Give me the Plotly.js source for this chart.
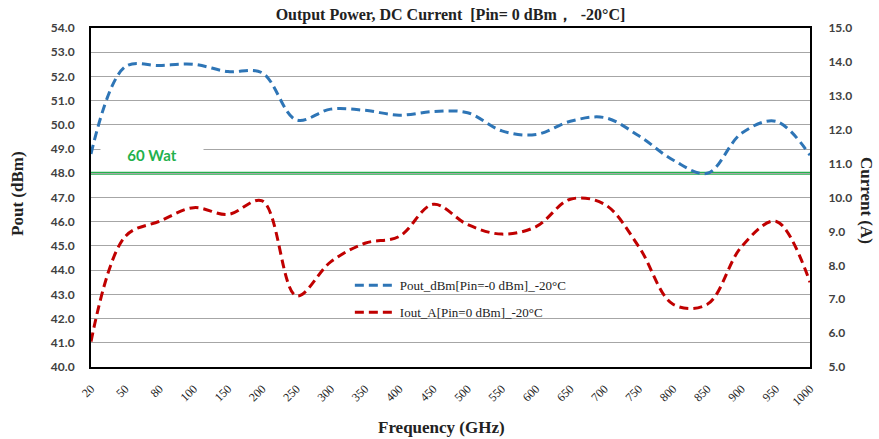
<!DOCTYPE html>
<html>
<head>
<meta charset="utf-8">
<script src="https://cdn.plot.ly/plotly-3.0.1.min.js"></script>
<style>html,body{margin:0;padding:0;background:#fff;}#chart{width:879px;height:439px;}</style>
</head>
<body>
<div id="chart"></div>
<script>
const freq = ['20','50','80','100','150','200','250','300','350','400','450','500','550','600','650','700','750','800','850','900','950','1000'];
const poutDbm = [48.8,52.4,52.45,52.5,52.2,52.15,50.2,50.65,50.6,50.4,50.55,50.5,49.75,49.6,50.15,50.3,49.55,48.55,48.0,49.65,50.15,48.75];
const ioutA = [5.75,8.85,9.3,9.7,9.5,9.9,7.1,8.1,8.65,8.85,9.8,9.2,8.92,9.14,9.95,9.8,8.55,6.85,6.85,8.55,9.3,7.5];
const level60W = 48;
const leftTicks = [40,41,42,43,44,45,46,47,48,49,50,51,52,53,54];
const rightTicks = [5,6,7,8,9,10,11,12,13,14,15];

const serif = 'Liberation Serif, Times New Roman, serif';
const sans = 'Lato, Open Sans, sans-serif';

const traces = [
  {x: freq, y: poutDbm, type: 'scatter', mode: 'lines', name: 'Pout_dBm[Pin=-0 dBm]_-20°C',
   line: {color: '#2e75b6', width: 3, dash: '9px,5px', shape: 'spline', smoothing: 1},
   legendgroup: 'a', yaxis: 'y'},
  {x: freq, y: ioutA, type: 'scatter', mode: 'lines', name: 'Iout_A[Pin=0 dBm]_-20°C',
   line: {color: '#c00000', width: 3, dash: '9px,5px', shape: 'spline', smoothing: 1},
   legendgroup: 'b', yaxis: 'y2'}
];

const layout = {
  width: 879, height: 439,
  margin: {l: 91, r: 69, t: 28, b: 72, pad: 0},
  paper_bgcolor: '#fff', plot_bgcolor: '#fff',
  showlegend: true,
  title: {text: '<b>Output Power, DC Current  [Pin= 0 dBm，  -20°C]</b>', font: {family: serif, size: 16, color: '#222'},
          x: 0.5, xref: 'paper', y: 0.968, yref: 'container', yanchor: 'middle'},
  xaxis: {type: 'category', range: [0, freq.length - 1], showgrid: false, zeroline: false,
          showline: true, linecolor: '#000', linewidth: 2, mirror: true,
          tickangle: -45, tickfont: {family: serif, size: 12, color: '#222'},
          ticks: '', ticklabelstandoff: 8, fixedrange: true},
  yaxis: {range: [40, 54], tickvals: leftTicks, tickformat: '.1f', showgrid: true, gridcolor: '#a6a6a6', gridwidth: 1,
          zeroline: false, showline: true, linecolor: '#000', linewidth: 2, mirror: true,
          tickfont: {family: sans, size: 12, color: '#404040', weight: 'bold'}, ticks: '', ticklabelstandoff: 12},
  yaxis2: {range: [5, 15], tickvals: rightTicks, tickformat: '.1f', overlaying: 'y', side: 'right', showgrid: false,
           zeroline: false, showline: true, linecolor: '#000', linewidth: 2,
           tickfont: {family: sans, size: 12, color: '#404040', weight: 'bold'}, ticks: '', ticklabelstandoff: 14},
  legend: {x: 0.36, xanchor: 'left', y: 0.285, yanchor: 'top', bgcolor: 'rgba(255,255,255,0)', itemwidth: 40,
           font: {family: serif, size: 13, color: '#222'}, traceorder: 'grouped', tracegroupgap: 7},
  shapes: [
    {type: 'rect', xref: 'paper', yref: 'paper', x0: (332-91)/719, x1: (600-91)/719, y0: (366.7-330)/338.2, y1: (366.7-276)/338.2,
     fillcolor: '#fff', line: {width: 0}, layer: 'between'},
    {type: 'line', xref: 'paper', yref: 'y', x0: 0, x1: 1, y0: level60W, y1: level60W,
     line: {color: '#22b14c', width: 3}, layer: 'between'}
  ],
  annotations: [
    {text: '<b>60 Wat</b>', xref: 'paper', yref: 'paper', x: (152-91)/719, y: (366.7-155.5)/338.2,
     xanchor: 'center', yanchor: 'middle', showarrow: false, bgcolor: '#fff', width: 100, height: 22,
     font: {family: sans, size: 15, color: '#22b14c'}},
    {text: '<b>Pout (dBm)</b>', xref: 'paper', yref: 'paper', x: (18-91)/719, y: (366.7-194)/338.2,
     xanchor: 'center', yanchor: 'middle', textangle: -90, showarrow: false,
     font: {family: serif, size: 17, color: '#222'}},
    {text: '<b>Current (A)</b>', xref: 'paper', yref: 'paper', x: (866-91)/719, y: (366.7-200)/338.2,
     xanchor: 'center', yanchor: 'middle', textangle: 90, showarrow: false,
     font: {family: serif, size: 17, color: '#222'}},
    {text: '<b>Frequency (GHz)</b>', xref: 'paper', yref: 'paper', x: (441-91)/719, y: (366.7-427)/338.2,
     xanchor: 'center', yanchor: 'middle', showarrow: false,
     font: {family: serif, size: 17, color: '#222'}}
  ]
};

Plotly.newPlot('chart', traces, layout, {staticPlot: true, displayModeBar: false});
</script>
</body>
</html>
